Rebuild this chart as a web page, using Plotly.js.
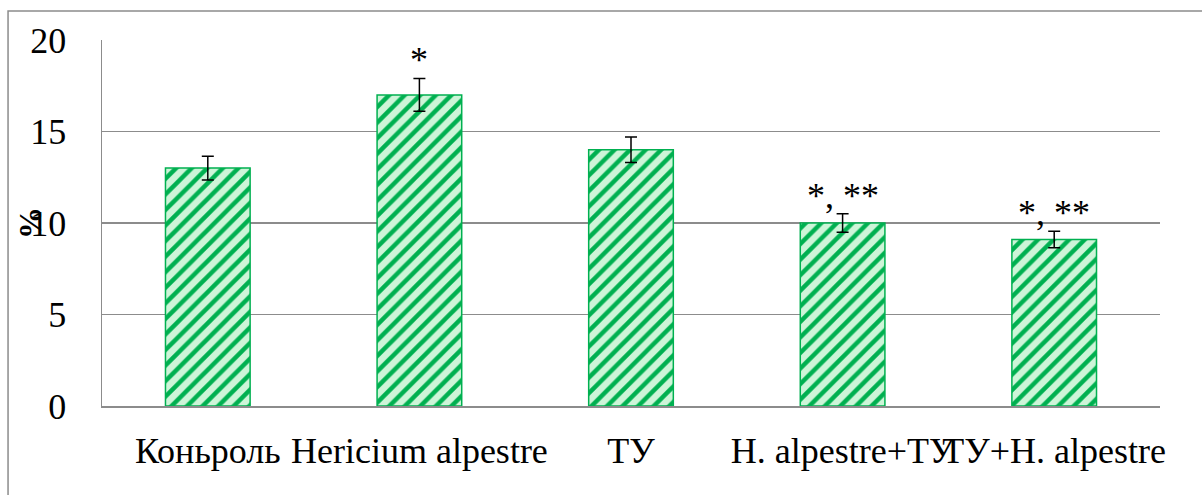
<!DOCTYPE html>
<html>
<head>
<meta charset="utf-8">
<script src="https://cdn.plot.ly/plotly-3.0.1.min.js"></script>
<style>html,body{margin:0;padding:0;background:#fff;}</style>
</head>
<body>
<div id="chart" style="width:1202px;height:495px;"></div>
<script>
const categories = ['Коньроль', 'Hericium alpestre', 'ТУ', 'H. alpestre+ТУ', 'ТУ+H. alpestre'];
const values = [13, 17, 14, 10, 9.1];
const errors = [0.65, 0.9, 0.7, 0.5, 0.45];
const marks = ['', '*', '', '*, **', '*, **'];
const yTicks = [0, 5, 10, 15, 20];

const FONT = "'Liberation Serif', 'Times New Roman', Times, serif";
const GRID = '#8c8c8c';

const trace = {
  type: 'bar',
  x: categories,
  y: values,
  width: 0.4,
  marker: {
    color: '#cdf5d8',
    line: {color: '#00b050', width: 1.5},
    pattern: {shape: '/', fgcolor: '#00b050', bgcolor: '#cdf5d8', size: 11, solidity: 0.4, fillmode: 'replace'}
  },
  error_y: {type: 'data', array: errors, visible: true, color: '#000', thickness: 1.5, width: 6},
  hoverinfo: 'skip'
};

const annotations = [];
categories.forEach((c, i) => {
  if (marks[i]) {
    annotations.push({
      x: c, y: values[i] + errors[i], xref: 'x', yref: 'y',
      text: marks[i], showarrow: false, yanchor: 'bottom', yshift: -4,
      font: {family: FONT, size: 36, color: '#000'}
    });
  }
});
annotations.push({
  x: -0.068, y: 0.5, xref: 'paper', yref: 'paper', text: '<b>%</b>', textangle: -90,
  showarrow: false, xanchor: 'center', yanchor: 'middle',
  font: {family: FONT, size: 32, color: '#000'}
});

const layout = {
  width: 1202, height: 495,
  font: {family: FONT, size: 36, color: '#000'},
  margin: {l: 102, r: 42, t: 40, b: 89, pad: 0},
  paper_bgcolor: '#fff', plot_bgcolor: '#fff',
  showlegend: false,
  bargap: 0.6,
  xaxis: {
    type: 'category', showgrid: false, showline: true, linecolor: GRID, linewidth: 1.5,
    ticks: '', tickangle: 0, tickfont: {family: FONT, size: 36, color: '#000'}, ticklabelstandoff: 12,
    fixedrange: true
  },
  yaxis: {
    range: [0, 20], tickvals: yTicks, ticktext: yTicks.map(String),
    showgrid: true, gridcolor: GRID, gridwidth: 1.5,
    showline: true, linecolor: GRID, linewidth: 1.5, zeroline: false,
    ticks: '', tickfont: {family: FONT, size: 36, color: '#000'}, ticklabelstandoff: 27,
    fixedrange: true
  },
  annotations: annotations,
  shapes: [{
    type: 'rect', xref: 'paper', yref: 'paper',
    x0: -0.0888, x1: 1.2, y0: -0.4, y1: 1.0792,
    line: {color: GRID, width: 1.5}, fillcolor: 'rgba(0,0,0,0)', layer: 'below'
  }]
};

Plotly.newPlot('chart', [trace], layout, {displayModeBar: false, staticPlot: true});
</script>
</body>
</html>
